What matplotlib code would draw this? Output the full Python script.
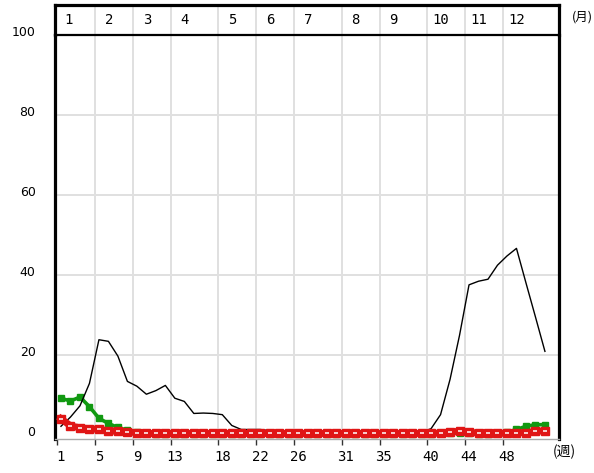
import matplotlib.pyplot as plt
import matplotlib.transforms as mtransforms
import numpy as np

plt.rcParams['font.family'] = ['DejaVu Sans', 'Noto Sans CJK JP']

weeks = np.arange(1, 53)
black = [2.3, 4.6, 7.4, 13.0, 23.9, 23.5, 19.8, 13.5, 12.3, 10.3,
         11.2, 12.5, 9.3, 8.5, 5.5, 5.6, 5.5, 5.2, 2.5, 1.5,
         1.5, 1.5, 1.2, 0.5, 0.5, 0.4, 0.4, 0.4, 0.3, 0.3,
         0.4, 0.5, 1.2, 0.5, 0.4, 0.4, 0.4, 0.6, 0.8, 1.7,
         5.2, 14.0, 25.0, 37.6, 38.5, 39.0, 42.5, 44.8, 46.7, 38.1,
         29.6, 21.0]
green = [9.3, 8.6, 9.6, 7.2, 4.3, 3.0, 2.0, 1.3, 0.9, 0.5,
         0.3, 0.3, 0.3, 0.3, 0.3, 0.3, 0.3, 0.3, 0.3, 0.3,
         0.3, 0.3, 0.3, 0.3, 0.3, 0.3, 0.3, 0.3, 0.3, 0.3,
         0.3, 0.3, 0.3, 0.3, 0.3, 0.3, 0.3, 0.3, 0.3, 0.3,
         0.5, 0.5, 0.6, 0.5, 0.4, 0.4, 0.6, 0.8, 1.5, 2.3,
         2.7, 2.7]
red = [4.2, 2.4, 1.9, 1.7, 1.5, 1.2, 1.0, 0.9, 0.7, 0.5,
       0.5, 0.5, 0.5, 0.5, 0.5, 0.5, 0.5, 0.5, 0.5, 0.5,
       0.5, 0.5, 0.5, 0.5, 0.5, 0.5, 0.5, 0.5, 0.5, 0.5,
       0.5, 0.5, 0.5, 0.5, 0.5, 0.5, 0.5, 0.5, 0.5, 0.5,
       0.6, 0.8, 1.1, 0.8, 0.6, 0.5, 0.5, 0.6, 0.7, 0.7,
       1.0, 1.2]
week_labels = [1, 5, 9, 13, 18, 22, 26, 31, 35, 40, 44, 48]
months = ['1', '2', '3', '4', '5', '6', '7', '8', '9', '10', '11', '12']
yticks = [0, 20, 40, 60, 80, 100]

W, H = 594, 473
fig = plt.figure(figsize=(W / 100, H / 100), dpi=100)
xlim = (0.37, 53.43)
ax = fig.add_axes([55 / W, 1 - 438.7 / H, 503.5 / W, 403.9 / H])
band = fig.add_axes([55 / W, 1 - 34.8 / H, 503.5 / W, 29.8 / H])

bounds = [w - 0.4 for w in week_labels]

# grid
for b in bounds[1:]:
    ax.axvline(b, color='#e0e0e0', lw=1.4, zorder=0)
    band.axvline(b, color='#e0e0e0', lw=1.4, zorder=0)
for y in yticks[1:-1]:
    ax.axhline(y, color='#e0e0e0', lw=1.4, zorder=0)

ax.plot(weeks, green, color='#119911', lw=2.6, marker='s', ms=4.5, mfc='#119911',
        mec='#119911', zorder=2)
ax.plot(weeks, black, color='black', lw=1.0, zorder=3)
ax.plot(weeks, red, color='#e01515', lw=5, marker='s', ms=6, mfc='#e01515',
        mec='#e01515', zorder=4)
ax.plot(weeks, red, ls='none', marker='_', ms=3, mew=1.1, color='white', zorder=5)

ax.set_xlim(*xlim)
ax.set_ylim(-0.8, 100)

# x axis: tick marks on month boundaries, labels on weeks
ax.set_xticks(bounds)
ax.set_xticklabels([])
ax.set_xticks(week_labels, minor=True)
ax.set_xticklabels([str(w) for w in week_labels], minor=True,
                   fontsize=10, family='DejaVu Sans Mono')
ax.tick_params(axis='x', which='major', length=4, width=1, color='#333333', direction='out')
ax.tick_params(axis='x', which='minor', length=0, pad=8)

ax.set_yticks(yticks)
ax.set_yticklabels([str(v) for v in yticks], fontsize=9)
ax.tick_params(axis='y', length=0, pad=14)
off = mtransforms.ScaledTranslation(0, 4 / 100, fig.dpi_scale_trans)
for lab in ax.get_yticklabels():
    lab.set_transform(lab.get_transform() + off)

for s in ['left', 'right']:
    ax.spines[s].set_linewidth(2.3)
ax.spines['top'].set_visible(False)
ax.spines['bottom'].set_color('#aaaaaa')
ax.spines['bottom'].set_linewidth(1)

# month band
band.set_xlim(*xlim)
band.set_ylim(0, 1)
band.set_xticks([])
band.set_yticks([])
band.spines['top'].set_linewidth(2.3)
band.spines['bottom'].set_linewidth(1.6)
band.spines['left'].set_linewidth(2.3)
band.spines['right'].set_linewidth(2.3)
band_starts = [xlim[0]] + bounds[1:]
for b, m in zip(band_starts, months):
    band.text(b + 1.45, 0.5, m, ha='center', va='center', fontsize=10,
              family='DejaVu Sans Mono')

fig.text(572 / W, 1 - 17 / H, '(月)', fontsize=9, ha='left', va='center',
         family=['Noto Sans CJK JP', 'DejaVu Sans'])
fig.text(553 / W, 1 - 452 / H, '(週)', fontsize=10, ha='left', va='center',
         family=['Noto Sans CJK JP', 'DejaVu Sans'])

fig.savefig('out.png', dpi=100)
